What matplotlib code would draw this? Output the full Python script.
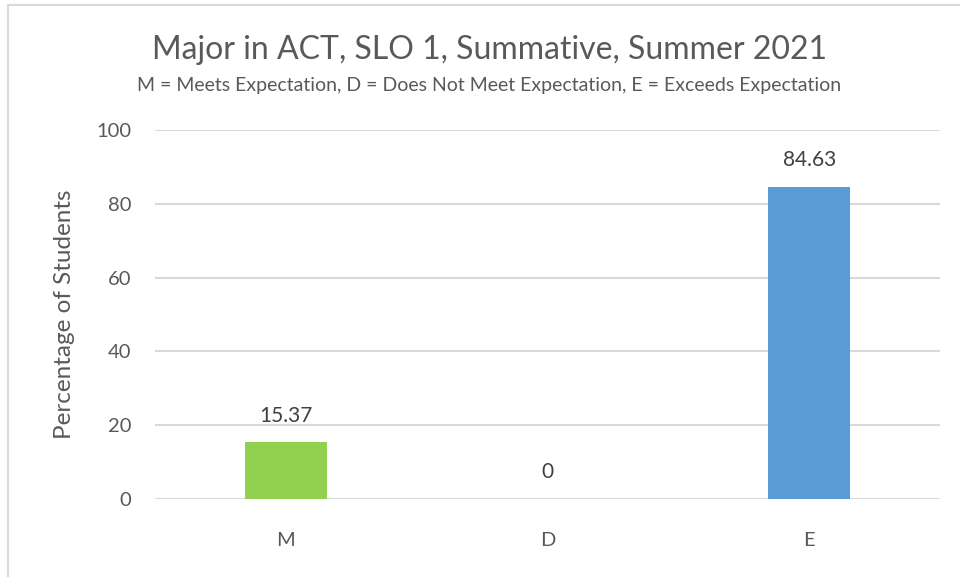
import matplotlib
matplotlib.use("Agg")
import matplotlib.pyplot as plt
from matplotlib.patches import Rectangle

categories = ["M", "D", "E"]
values = [15.37, 0, 84.63]
value_labels = ["15.37", "0", "84.63"]
colors = ["#92D050", "#5B9BD5", "#5B9BD5"]
yticks = [0, 20, 40, 60, 80, 100]

plt.rcParams['font.family'] = ['Lato', 'DejaVu Sans']
txt = "#595959"

fig = plt.figure(figsize=(9.6, 5.77), dpi=100)
fig.patches.append(Rectangle((8/960, -0.01), 1.0, 1 - 5/577 + 0.01, transform=fig.transFigure,
                             fill=False, edgecolor="#d9d9d9", linewidth=1.5))
ax = fig.add_axes([155/960, 1 - 499/577, 785/960, (499 - 130)/577])
x = list(range(len(categories)))
ax.bar(x, values, width=0.313, color=colors, zorder=3)
ax.set_xlim(-0.5, 2.5)
ax.set_ylim(0, 100)
ax.set_yticks(yticks)
ax.set_xticks(x)
ax.set_xticklabels(categories)
ax.yaxis.grid(True, color="#d9d9d9", linewidth=1.5, zorder=0)
ax.set_axisbelow(True)
for s in ax.spines.values():
    s.set_visible(False)
ax.tick_params(axis="both", length=0, labelsize=14.5, colors=txt)
ax.tick_params(axis="y", pad=17)
ax.tick_params(axis="x", pad=24)
ax.set_ylabel("Percentage of Students", fontsize=17.5, color=txt, labelpad=15)
for xi, v, lab in zip(x, values, value_labels):
    ax.annotate(lab, (xi, v), xytext=(0, 12), textcoords="offset points",
                ha="center", va="bottom", fontsize=15, color="#404040")
fig.text(489/960, 1 - 50/577, "Major in ACT, SLO 1, Summative, Summer 2021",
         ha="center", va="center", fontsize=23, color=txt)
fig.text(489/960, 1 - 86/577, "M = Meets Expectation, D = Does Not Meet Expectation, E = Exceeds Expectation",
         ha="center", va="center", fontsize=14, color=txt)
fig.savefig("out.png", dpi=100)
